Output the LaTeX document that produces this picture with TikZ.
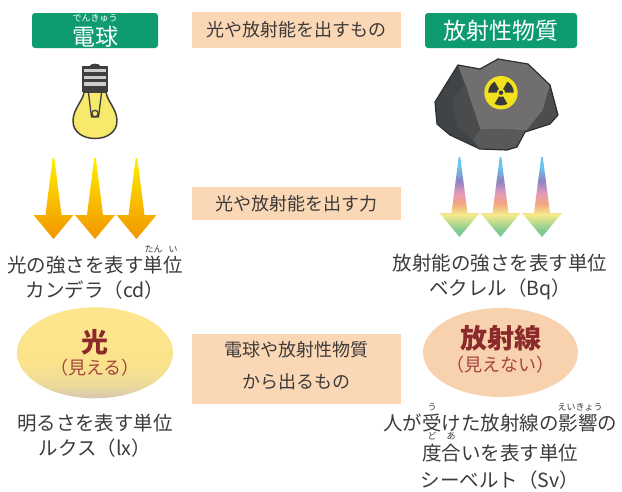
\documentclass[tikz,border=0pt]{standalone}
\usepackage{fontspec}
\setmainfont{Noto Sans CJK JP}
\usepackage{tikz}
\tikzset{
  every node/.style = {
    inner sep = 0pt,
    outer sep = 0pt
  }
}
\usetikzlibrary{
shapes.geometric
}
\usepackage{xcolor}

\definecolor{labelgreen}{HTML}{0E9B6F}
\definecolor{boxpeach}{HTML}{FAD8B6}
\definecolor{ovalpeach}{HTML}{F8D1AE}
\definecolor{inkgray}{HTML}{3E3A39}
\definecolor{wordred}{HTML}{8B2A2A}
\definecolor{softred}{HTML}{A3453E}
\definecolor{bulbglass}{HTML}{F6E96C}
\definecolor{bulbline}{HTML}{3F3F3F}
\definecolor{socketband}{HTML}{CDCDCD}
\definecolor{rockdark}{HTML}{404447}
\definecolor{rocklight}{HTML}{706E6E}
\definecolor{rockside}{HTML}{4E4C4D}
\definecolor{rockbase}{HTML}{5A595A}
\definecolor{rockshade}{HTML}{4A4B4D}
\definecolor{rockline}{HTML}{2F2F2F}
\definecolor{trefoilyellow}{HTML}{F2E11E}
\definecolor{trefoilblack}{HTML}{3A3A3A}
\definecolor{sunorange}{HTML}{F29600}
\definecolor{sunamber}{HTML}{F6AE00}
\definecolor{sunyellow}{HTML}{FFEE00}
\definecolor{raygreen}{HTML}{80C98F}
\definecolor{rayyellow}{HTML}{F5EB8C}
\definecolor{raysalmon}{HTML}{F3A57F}
\definecolor{raypink}{HTML}{E79AB7}
\definecolor{raypurple}{HTML}{8F83C4}
\definecolor{rayblue}{HTML}{69C5EC}
\definecolor{glowtan}{HTML}{D6C9B0}
\definecolor{glowgold}{HTML}{EEDB98}
\definecolor{glowyellow}{HTML}{FBE38B}
\definecolor{glowtop}{HTML}{FDE68E}

\pgfdeclareverticalshading{sunray}{100bp}{
  color(0bp)=(sunorange); color(25bp)=(sunorange);
  color(40bp)=(sunamber); color(75bp)=(sunyellow);
  color(100bp)=(sunyellow)}
\pgfdeclareverticalshading{rayband}{100bp}{
  color(0bp)=(raygreen); color(29bp)=(raygreen);
  color(39bp)=(rayyellow); color(46bp)=(raysalmon);
  color(52bp)=(raypink); color(60bp)=(raypurple);
  color(69bp)=(rayblue); color(100bp)=(rayblue)}
\pgfdeclareverticalshading{glowbulb}{100bp}{
  color(0bp)=(glowtan); color(25bp)=(glowtan);
  color(33bp)=(glowgold); color(45bp)=(glowyellow);
  color(75bp)=(glowtop); color(100bp)=(glowtop)}

\begin{document}
\begin{tikzpicture}[
      x = 1pt,
      y = -1pt,
      every node/.append style = {
        text = inkgray
      },
      greenlabel/.style = {
        fill = labelgreen,
        rounded corners = 3pt
      },
      peachbox/.style = {
        fill = boxpeach,
        minimum width = 209
      },
      labeltext/.style = {
        font = \fontsize{23}{26}\selectfont,
        text height = 18.4pt,
        text depth = 1.2pt
      },
      boxtext/.style = {
        font = \fontsize{18}{21}\selectfont,
        text height = 14.4pt,
        text depth = 0.9pt
      },
      bodytext/.style = {
        font = \fontsize{19.5}{23}\selectfont,
        text height = 15.6pt,
        text depth = 1pt
      },
      rubytext/.style = {
        font = \fontsize{9}{10}\selectfont,
        text height = 7.2pt,
        text depth = 0.5pt
      },
      bigword/.style = {
        font = \fontsize{27}{30}\bfseries,
        text = wordred,
        text height = 21.6pt,
        text depth = 1.4pt
      },
      smallword/.style = {
        font = \fontsize{18}{21}\selectfont,
        text = softred,
        text height = 14.4pt,
        text depth = 0.9pt
      },
      lightarrow/.style = {
        shading = sunray
      },
      rayarrow/.style = {
        shading = rayband
      },
      ]
      \useasboundingbox (0,0) rectangle (622,491);

      % headings
      \node [greenlabel, minimum width = 126, minimum height = 35]
      (bulb-label) at (95,30.5) {};
      \node [labeltext, text = white] (bulb-name) at (95,37) {電球};
      \node [rubytext, text = white] (bulb-ruby) at (95,18.5) {でんきゅう};
      \node [greenlabel, labeltext, text = white, minimum width = 152, minimum height = 35]
      (rock-label) at (501,30.5) {放射性物質};

      \node [peachbox, boxtext, minimum height = 36] (source-box) at (296.5,30)
      {光や放射能を出すもの};
      \node [peachbox, boxtext, minimum height = 33] (power-box) at (296.5,203.5)
      {光や放射能を出す力};
      \node [peachbox, minimum height = 70] (ray-box) at (296.5,369) {};
      \node [boxtext] (ray-line1) at (296.5,350) {電球や放射性物質};
      \node [boxtext] (ray-line2) at (296.5,382) {から出るもの};

      % light bulb
      \fill [bulbline] (89,67) .. controls (90,62.5) and (100,62.5) .. (101,67) -- cycle;
      \fill [bulbline] (82,66) rectangle (108,92);
      \foreach \band in {69,75.7,82.3} {
        \fill [socketband] (84.3,\band) rectangle (105.7,\band+3.4);
      }
      \draw [bulbline, fill = bulbglass, line width = 1.5, line join = round]
      (84,92) .. controls (83,101) and (73,109) .. (73,121)
      .. controls (73,132) and (83,138.5) .. (95,138.5)
      .. controls (107,138.5) and (117,132) .. (117,121)
      .. controls (117,109) and (107,101) .. (106,92) -- cycle;
      \draw [bulbline, line width = 1.3, line join = round]
      (88.5,93) -- (91.5,117) -- (98.5,117) -- (101.5,93);
      \draw [bulbline, line width = 1.3] (95,113.5) circle (3.2);

      % ore lump
      \fill [rockdark] (458,65) -- (480,69) -- (498,59) -- (528,64) -- (550,85)
      -- (558,115) -- (550,124) -- (525,132) -- (517,147) -- (507,150)
      -- (480,149) -- (450,135) -- (437,124) -- (435,102) -- (443,89) -- cycle;
      \fill [rocklight] (458,65) -- (480,69) -- (498,59) -- (528,64) -- (550,85)
      -- (543,110) -- (527,130) -- (480,129) -- (465,84) -- cycle;
      \fill [rockside] (550,85) -- (558,115) -- (550,124) -- (525,132)
      -- (527,130) -- (543,110) -- cycle;
      \fill [rockbase] (480,129) -- (527,130) -- (525,132) -- (517,147)
      -- (507,150) -- (480,149) -- (473,140) -- cycle;
      \fill [rockshade] (465,84) -- (480,129) -- (473,140) -- (458,128)
      -- (452,100) -- cycle;
      \draw [rockline, line width = 1.2, line join = round]
      (458,65) -- (480,69) -- (498,59) -- (528,64) -- (550,85)
      -- (558,115) -- (550,124) -- (525,132) -- (517,147) -- (507,150)
      -- (480,149) -- (450,135) -- (437,124) -- (435,102) -- (443,89) -- cycle;

      \coordinate (atom) at (501,92.7);
      \fill [trefoilyellow] (atom) circle (16.7);
      \foreach \a in {90,210,330} {
        \fill [trefoilblack] ([shift={(\a-30:4.2)}]atom)
        -- ([shift={(\a-30:12.8)}]atom)
        arc [start angle = \a-30, end angle = \a+30, radius = 12.8]
        -- ([shift={(\a+30:4.2)}]atom)
        arc [start angle = \a+30, end angle = \a-30, radius = 4.2] -- cycle;
      }
      \fill [trefoilblack] (atom) circle (2.2);

      % arrows
      \foreach \ax in {53.5,95,136.5} {
        \path [lightarrow] (\ax-0.8,158) -- (\ax+0.8,158) -- (\ax+8,215)
        -- (\ax+20,215) -- (\ax,239) -- (\ax-20,215) -- (\ax-8,215) -- cycle;
      }
      \foreach \ax in {459.5,500.5,542} {
        \path [rayarrow] (\ax-0.8,157) -- (\ax+0.8,157) -- (\ax+8,213)
        -- (\ax+20,213) -- (\ax,237) -- (\ax-20,213) -- (\ax-8,213) -- cycle;
      }

      % units
      \node [bodytext] (candela-1) at (95,265) {光の強さを表す単位};
      \node [rubytext] (candela-ruby-1) at (153.5,249.5) {たん};
      \node [rubytext] (candela-ruby-2) at (173,249.5) {い};
      \node [bodytext] (candela-2) at (95,290) {カンデラ（cd）};

      \node [bodytext] (becquerel-1) at (500,263) {放射能の強さを表す単位};
      \node [bodytext] (becquerel-2) at (500,288) {ベクレル（Bq）};

      \node [ellipse, minimum width = 156, minimum height = 91, shading = glowbulb]
      (light-oval) at (95,352.8) {};
      \node [bigword] (light-word) at (95,342) {光};
      \node [smallword] (light-note) at (95,368) {（見える）};

      \node [ellipse, minimum width = 155, minimum height = 89, fill = ovalpeach]
      (ray-oval) at (500.5,352.5) {};
      \node [bigword] (ray-word) at (500.5,338) {放射線};
      \node [smallword] (ray-note) at (500.5,365) {（見えない）};

      \node [bodytext] (lux-1) at (95,423) {明るさを表す単位};
      \node [bodytext] (lux-2) at (95,448) {ルクス（lx）};

      \node [bodytext] (sievert-1) at (500,423) {人が受けた放射線の影響の};
      \node [rubytext] (sievert-ruby-1) at (432,407) {う};
      \node [rubytext] (sievert-ruby-2) at (580,407) {えいきょう};
      \node [bodytext] (sievert-2) at (500,453) {度合いを表す単位};
      \node [rubytext] (sievert-ruby-3) at (432,436) {ど};
      \node [rubytext] (sievert-ruby-4) at (451,436) {あ};
      \node [bodytext] (sievert-3) at (500,480) {シーベルト（Sv）};
    \end{tikzpicture}
\end{document}
